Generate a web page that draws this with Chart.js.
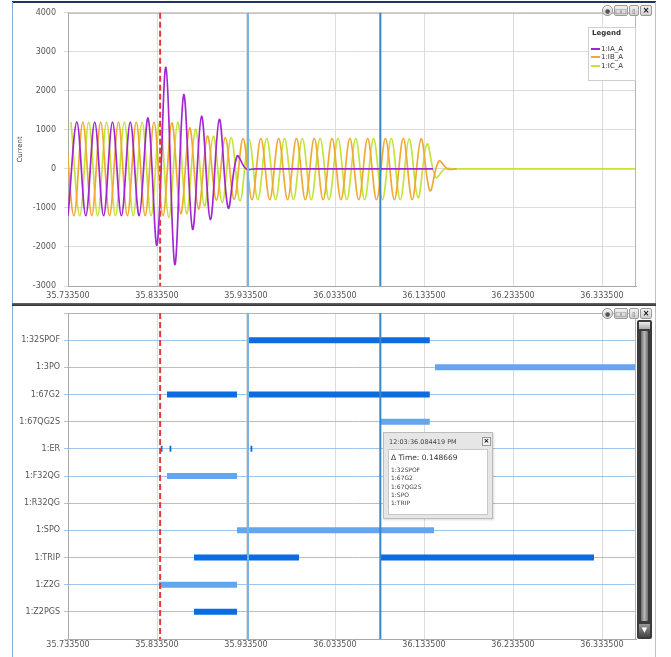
<!DOCTYPE html>
<html>
<head>
<meta charset="utf-8">
<script src="https://cdn.jsdelivr.net/npm/chart.js"></script>
<style>
  body { margin: 0; background: #fff; font-family: "DejaVu Sans", sans-serif; }
  #page { position: relative; width: 671px; height: 657px; overflow: hidden; }
  #page canvas { position: absolute; left: 0; }
  .abs { position: absolute; }
  .icon { position: absolute; height: 9px; background: linear-gradient(#f2f2f2, #cfcfcf); border: 1px solid #9a9a9a; border-radius: 2px; font-size: 6px; line-height: 9px; text-align: center; color: #555; }
</style>
</head>
<body>
<div id="page">
  <canvas id="currentChart" width="660" height="302" style="top:0"></canvas>
  <canvas id="digitalChart" width="660" height="353" style="top:304px"></canvas>

  <div class="abs" style="left:12px;top:1px;width:644px;height:2px;background:#1e3560"></div>
  <div class="abs" style="left:12px;top:2px;width:1px;height:655px;background:#86acd8"></div>
  <div class="abs" style="left:655px;top:2px;width:1px;height:655px;background:#b9c3ce"></div>
  <div class="abs" style="left:12px;top:303px;width:644px;height:3px;background:linear-gradient(#6a6a6a,#2e2e2e)"></div>

  <div id="legendBox" class="abs" style="left:588px;top:27px;width:46px;height:52px;background:#fff;border:1px solid #cfcfcf"></div>
  <div id="toolbarTop"></div>
  <div id="toolbarBottom"></div>

  <!-- scrollbar of the lower panel -->
  <div class="abs" style="left:637px;top:320px;width:15px;height:319px;background:#3b3b3b;border-radius:2px"></div>
  <div class="abs" style="left:639px;top:322px;width:11px;height:7px;background:linear-gradient(#eee,#aaa)"></div>
  <div class="abs" style="left:641px;top:331px;width:7px;height:290px;background:linear-gradient(to right,#6e6e6e,#b8b8b8,#6e6e6e)"></div>
  <div class="abs" style="left:639px;top:624px;width:11px;height:13px;background:linear-gradient(#999,#444);color:#fff;font-size:7px;line-height:13px;text-align:center">&#9660;</div>

  <div id="cursorBox" class="abs"></div>
</div>
<script>
// --- analogue channels (peak value of each half cycle) ---
const HALF_CYCLE = 0.01; // 50 Hz record
const X_MIN = 35.7335;
const X_MAX = 36.3717;
const TIME_TICK_LABELS = ['35.733500', '35.833500', '35.933500', '36.033500', '36.133500', '36.233500', '36.333500'];

const IA_START = 35.7335;
const IA_PEAKS = [-1200, 1200, -1200, 1200, -1200, 1200, -1200, 1200, -1200, 1300,
  -1950, 2600, -2450, 1900, -1550, 1350, -1300, 1270, -1000, 330,
  0, 0, 0, 0, 0, 0, 0, 0, 0, 0, 0, 0, 0, 0, 0, 0, 0, 0, 0, 0, 0, 0];

const IB_START = 35.7302;
const IB_PEAKS = [1200, -1200, 1200, -1200, 1200, -1200, 1200, -1200, 1200, -1200,
  1200, -1200, 1180, -1150, 1050, -1030, 840, -800, 800, -780,
  780, -790, 780, -790, 780, -790, 780, -790, 780, -790, 780, -790, 780, -790,
  780, -790, 780, -790, 780, -790, 770, -560, 200, 0, 0];

const IC_START = 35.7368;
const IC_PEAKS = [1200, -1200, 1200, -1200, 1200, -1200, 1200, -1200, 1200, -1200,
  1200, -1240, 1200, -1150, 1020, -950, 840, -860, 800, -820,
  770, -790, 780, -790, 780, -790, 780, -790, 780, -790, 780, -790, 780, -790,
  780, -790, 780, -790, 770, -740, 640, -220, 0, 0];

const SERIES_NAMES = ['1:IA_A', '1:IB_A', '1:IC_A'];
const SERIES_COLORS = ['#a326d2', '#f0a935', '#c4e43a'];

// --- digital channels: [on, off] times ---
const ROW_LABELS = ['1:32SPOF', '1:3PO', '1:67G2', '1:67QG2S', '1:ER', '1:F32QG', '1:R32QG', '1:SPO', '1:TRIP', '1:Z2G', '1:Z2PGS'];
const ROW_SEGMENTS = [
  [[35.9358, 36.1400]],
  [[36.1459, 36.4000]],
  [[35.8447, 35.9234], [35.9358, 36.1400]],
  [[36.0844, 36.1400]],
  [[35.8377, 35.8397], [35.8476, 35.8496], [35.9386, 35.9406]],
  [[35.8447, 35.9234]],
  [],
  [[35.9234, 36.1447]],
  [[35.8751, 35.9931], [36.0844, 36.3245]],
  [[35.8357, 35.9234]],
  [[35.8751, 35.9234]]
];

// --- cursors ---
const FAULT_MARK = 35.8370;
const CURSOR_A = 35.935750;
const CURSOR_B = 36.084419;
const CLOCK_PREFIX = '12:03:';

Chart.defaults.font.family = '"DejaVu Sans", sans-serif';
Chart.defaults.font.size = 8;
Chart.defaults.color = '#555';

const cursorPlugin = {
  id: 'cursors',
  afterDatasetsDraw(chart) {
    const { ctx, chartArea: a, scales } = chart;
    ctx.save();
    ctx.strokeStyle = '#b4b4b4';
    ctx.lineWidth = 1;
    ctx.beginPath();
    ctx.moveTo(a.left, a.top + 0.5); ctx.lineTo(a.right, a.top + 0.5);
    ctx.moveTo(a.right - 0.5, a.top); ctx.lineTo(a.right - 0.5, a.bottom);
    ctx.stroke();
    const lines = [
      { v: CURSOR_A, color: '#78b5e6', dash: [] },
      { v: CURSOR_B, color: '#3a85c8', dash: [] },
      { v: FAULT_MARK, color: '#e23b3b', dash: [6, 3] }
    ];
    lines.forEach(l => {
      const x = scales.x.getPixelForValue(l.v);
      ctx.strokeStyle = l.color;
      ctx.lineWidth = 2;
      ctx.setLineDash(l.dash);
      ctx.beginPath();
      ctx.moveTo(x, a.top);
      ctx.lineTo(x, a.bottom);
      ctx.stroke();
    });
    ctx.restore();
  }
};

function timeAxis(pad, height) {
  return {
    type: 'linear', min: X_MIN, max: X_MAX,
    afterBuildTicks: s => { s.ticks = TIME_TICK_LABELS.map(t => ({ value: Number(t) })); },
    afterFit: s => { s.height = height; },
    ticks: { autoSkip: false, maxRotation: 0, padding: pad, callback: (v, i) => TIME_TICK_LABELS[i] },
    grid: { color: '#dcdcdc', drawTicks: false },
    border: { color: '#a8a8a8' }
  };
}

function wave(start, peaks) {
  return peaks.map((v, i) => ({ x: start + i * HALF_CYCLE, y: v }));
}

const icData = wave(IC_START, IC_PEAKS);
icData.push({ x: X_MAX, y: 0 });
const waveData = [wave(IA_START, IA_PEAKS), wave(IB_START, IB_PEAKS), icData];

new Chart(document.getElementById('currentChart'), {
  type: 'line',
  data: {
    datasets: SERIES_NAMES.map((name, i) => ({
      label: name,
      data: waveData[i],
      borderColor: SERIES_COLORS[i],
      borderWidth: 1.7,
      pointRadius: 0,
      tension: 0.35
    }))
  },
  options: {
    responsive: false,
    animation: false,
    layout: { padding: { left: 14, right: 24, top: 11, bottom: 2 } },
    plugins: { legend: { display: false }, tooltip: { enabled: false } },
    scales: {
      x: timeAxis(5, 14),
      y: {
        min: -3000, max: 4000,
        ticks: { stepSize: 1000, padding: 8, callback: v => String(v) },
        title: { display: true, text: 'Current', font: { size: 7 }, color: '#444', padding: { top: 2, bottom: 0 } },
        afterFit: s => { s.width = 54; },
        grid: { color: '#dcdcdc', tickLength: 4 },
        border: { color: '#a8a8a8' }
      }
    }
  },
  plugins: [cursorPlugin]
});

const rowDatasets = ROW_LABELS.map((label, i) => {
  const pts = [];
  ROW_SEGMENTS[i].forEach(([s, e], j) => {
    if (j > 0) pts.push({ x: s, y: null });
    pts.push({ x: s, y: i + 1 }, { x: e, y: i + 1 });
  });
  return {
    label,
    data: pts,
    borderColor: i % 2 === 0 ? '#0b6be0' : '#63a5ef',
    borderWidth: 6,
    borderCapStyle: 'butt',
    pointRadius: 0,
    spanGaps: false
  };
});

new Chart(document.getElementById('digitalChart'), {
  type: 'line',
  data: { datasets: rowDatasets },
  options: {
    responsive: false,
    animation: false,
    layout: { padding: { left: 14, right: 24, top: 9, bottom: 2 } },
    plugins: { legend: { display: false }, tooltip: { enabled: false } },
    scales: {
      x: timeAxis(1, 16),
      y: {
        type: 'linear', min: 0, max: ROW_LABELS.length + 1, reverse: true,
        afterBuildTicks: s => { s.ticks = Array.from({ length: ROW_LABELS.length + 2 }, (_, k) => ({ value: k })); },
        afterFit: s => { s.width = 54; },
        ticks: { autoSkip: false, padding: 4, callback: v => ROW_LABELS[v - 1] || '' },
        grid: {
          tickLength: 4,
          color: c => (c.tick && c.tick.value >= 1 && c.tick.value <= ROW_LABELS.length) ? '#9fc6ea' : '#c4c4c4'
        },
        border: { color: '#a8a8a8' }
      }
    }
  },
  plugins: [cursorPlugin]
});

// legend box
const legendBox = document.getElementById('legendBox');
legendBox.innerHTML = '<div style="position:absolute;left:3px;top:1px;font-size:7px;font-weight:bold;color:#333">Legend</div>' +
  SERIES_NAMES.map((n, i) =>
    '<div style="position:absolute;left:2px;top:' + (10 + i * 8.5) + 'px;height:8px;white-space:nowrap">' +
    '<span style="display:inline-block;width:9px;height:2px;background:' + SERIES_COLORS[i] + ';vertical-align:middle"></span>' +
    '<span style="font-size:7px;color:#333;vertical-align:middle;margin-left:1px">' + n + '</span></div>').join('');

// toolbars
function toolbar(id, top) {
  const el = document.getElementById(id);
  el.innerHTML =
    '<div class="icon" style="left:602px;top:' + top + 'px;width:9px;border-radius:5px">&#9679;</div>' +
    '<div class="icon" style="left:614px;top:' + top + 'px;width:12px">&#9633;&#9633;</div>' +
    '<div class="icon" style="left:629px;top:' + top + 'px;width:8px">&#9647;</div>' +
    '<div class="icon" style="left:640px;top:' + top + 'px;width:10px;font-weight:bold;color:#111;font-size:8px">&#215;</div>';
}
toolbar('toolbarTop', 5);
toolbar('toolbarBottom', 308);

// cursor read-out box
const activeRows = ROW_LABELS.filter((l, i) => ROW_SEGMENTS[i].some(([s, e]) => s <= CURSOR_B && CURSOR_B <= e));
const box = document.getElementById('cursorBox');
box.style.cssText = 'left:383px;top:432px;width:108px;height:85px;background:#e6e6e6;border:1px solid #bcbcbc;box-shadow:1px 1px 2px rgba(0,0,0,0.15)';
box.innerHTML =
  '<div style="position:absolute;left:5px;top:5px;font-size:6.5px;color:#444;white-space:nowrap">' + CLOCK_PREFIX + CURSOR_B.toFixed(6) + ' PM</div>' +
  '<div style="position:absolute;left:98px;top:4px;width:7px;height:7px;border:1px solid #999;background:#f4f4f4;font-size:7px;line-height:7px;text-align:center;font-weight:bold">&#215;</div>' +
  '<div style="position:absolute;left:4px;top:16px;width:98px;height:64px;background:#fff;border:1px solid #c8c8c8">' +
  '<div style="position:absolute;left:2px;top:3px;font-size:7.5px;color:#333;white-space:nowrap">&#916; Time: ' + (CURSOR_B - CURSOR_A).toFixed(6) + '</div>' +
  activeRows.map((r, i) => '<div style="position:absolute;left:2px;top:' + (16 + i * 8.3) + 'px;font-size:6px;color:#444">' + r + '</div>').join('') +
  '</div>';
</script>
</body>
</html>
